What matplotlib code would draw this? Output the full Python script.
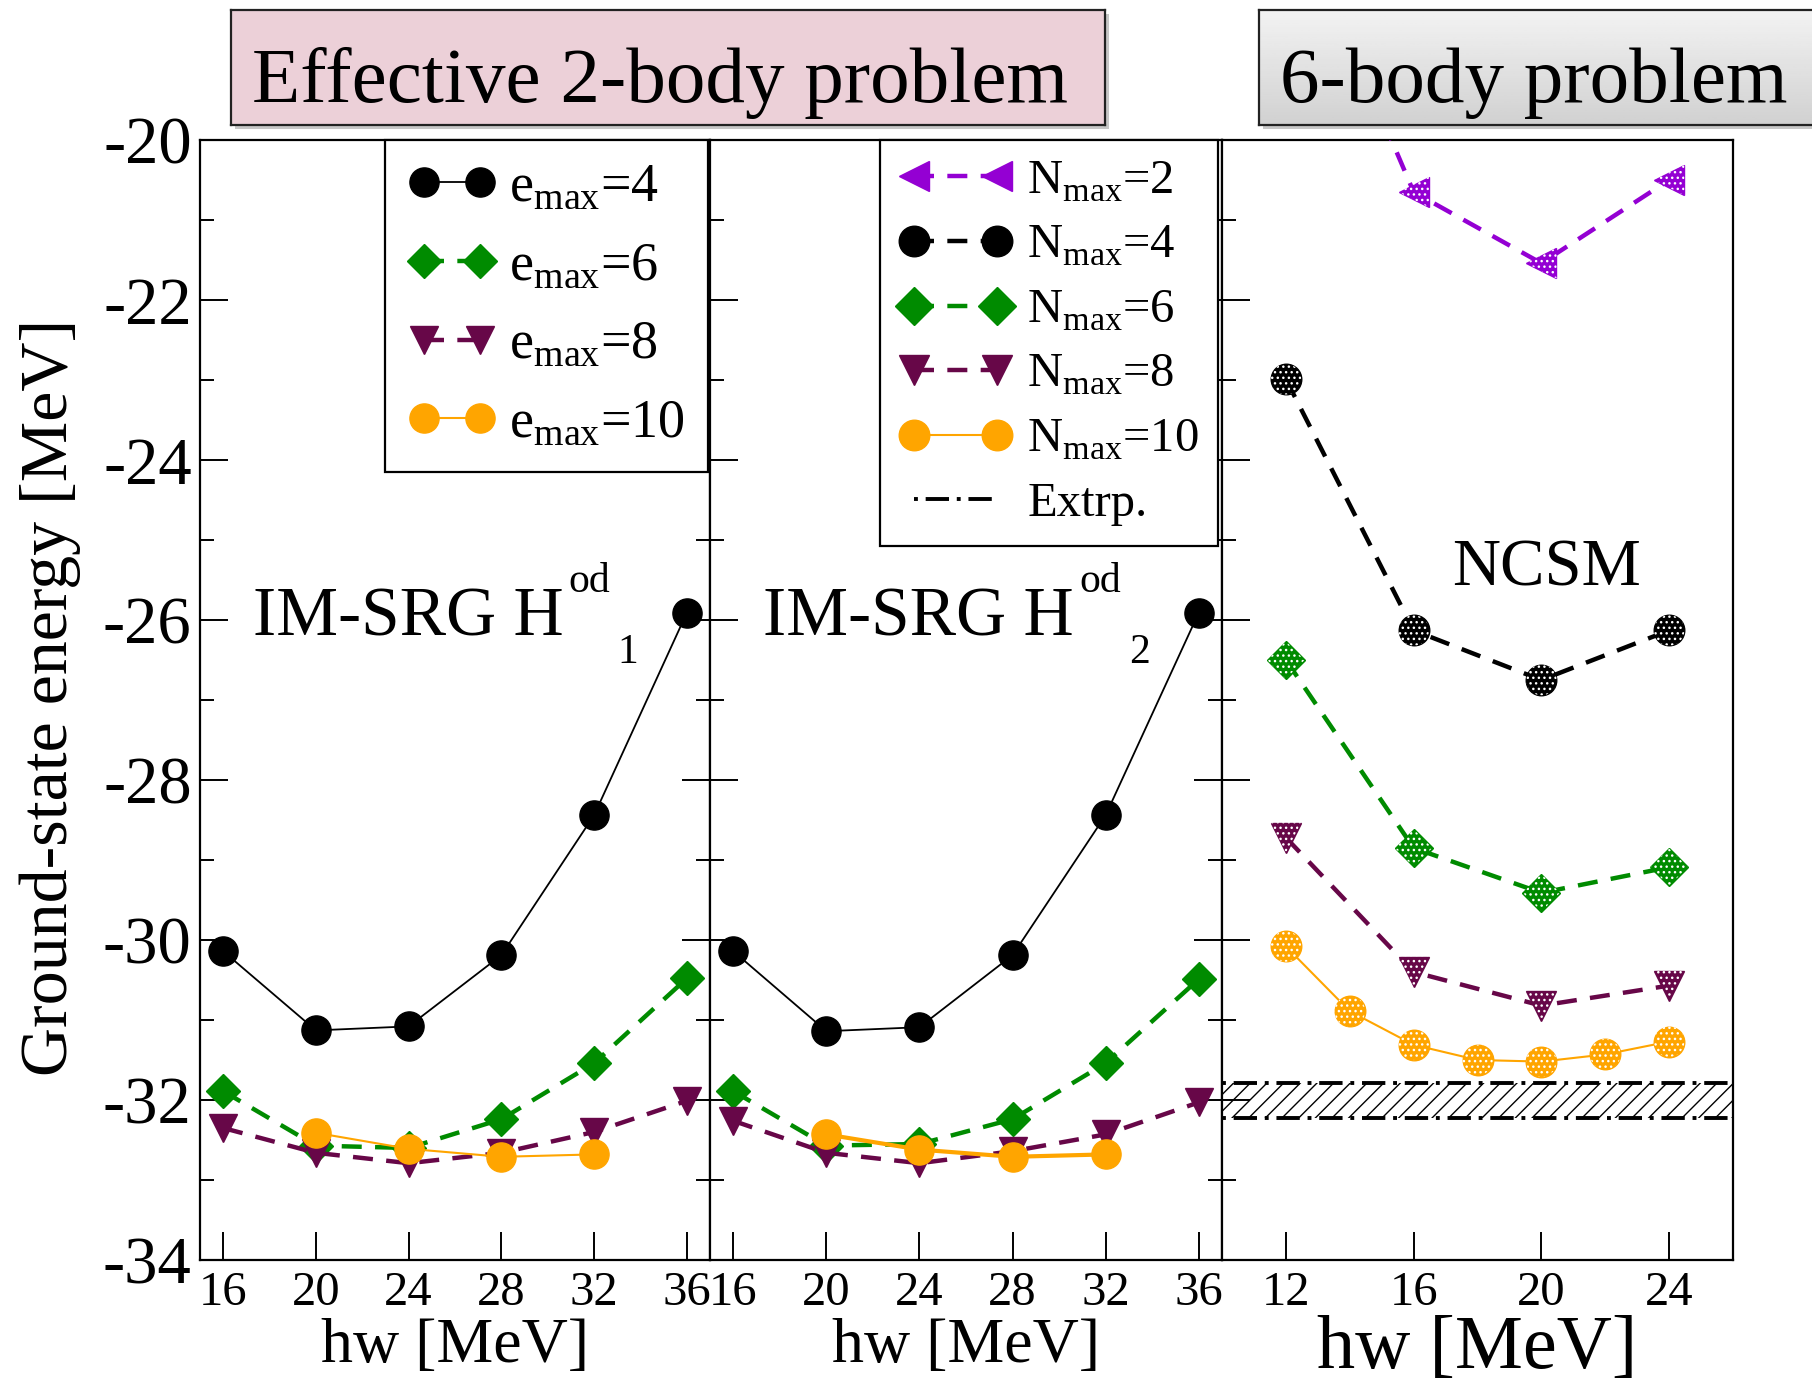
import numpy as np
import matplotlib
matplotlib.use('Agg')
import matplotlib.pyplot as plt
from matplotlib.lines import Line2D
from matplotlib.patches import Rectangle
from matplotlib.ticker import MultipleLocator, FormatStrFormatter

plt.rcParams['font.family'] = ['Liberation Serif', 'DejaVu Serif']
plt.rcParams['mathtext.fontset'] = 'custom'
plt.rcParams['mathtext.rm'] = 'Liberation Serif'
plt.rcParams['axes.unicode_minus'] = False
plt.rcParams['hatch.linewidth'] = 1.0

# IM-SRG data (effective 2-body problem)
hw_imsrg = [16, 20, 24, 28, 32, 36]
hw_emax10 = [20, 24, 28, 32]

h1_emax4 = [-30.14, -31.13, -31.08, -30.19, -28.44, -25.91]
h1_emax6 = [-31.89, -32.57, -32.60, -32.24, -31.54, -30.48]
h1_emax8 = [-32.35, -32.66, -32.79, -32.66, -32.40, -32.01]
h1_emax10 = [-32.41, -32.61, -32.71, -32.68]

h2_emax4 = [-30.14, -31.14, -31.09, -30.19, -28.44, -25.91]
h2_emax6 = [-31.89, -32.57, -32.55, -32.24, -31.54, -30.49]
h2_emax8 = [-32.26, -32.66, -32.79, -32.64, -32.43, -32.03]
h2_emax10 = [-32.43, -32.62, -32.71, -32.68]

# NCSM data (6-body problem)
hw_ncsm = [12, 16, 20, 24]
hw_nmax10 = [12, 14, 16, 18, 20, 22, 24]
ncsm_nmax2 = [-16.9, -20.65, -21.54, -20.50]
ncsm_nmax4 = [-22.99, -26.13, -26.75, -26.13]
ncsm_nmax6 = [-26.50, -28.85, -29.41, -29.09]
ncsm_nmax8 = [-28.72, -30.40, -30.82, -30.57]
ncsm_nmax10 = [-30.08, -30.89, -31.31, -31.50, -31.52, -31.43, -31.27]
extrp_lo, extrp_hi = -32.22, -31.79

# grace colours
BLACK = '#000000'
GREEN = '#008b00'
MAROON = '#670748'
ORANGE = '#ffa500'
VIOLET = '#9400d3'

W, H = 1812, 1390
fig = plt.figure(figsize=(W / 100, H / 100), dpi=100)

ax1 = fig.add_axes([200 / W, 130 / H, 510 / W, 1120 / H])
ax2 = fig.add_axes([710 / W, 130 / H, 512 / W, 1120 / H])
ax3 = fig.add_axes([1222 / W, 130 / H, 511 / W, 1120 / H])

dash = (0, (4.5, 3.0))


def imsrg_panel(ax, e4, e6, e8, e10, lw10):
    ax.plot(hw_imsrg, e4, '-', color=BLACK, lw=1.3, marker='o', ms=21, zorder=3)
    ax.plot(hw_imsrg, e6, ls=dash, color=GREEN, lw=3.2, marker='D', ms=17.5, zorder=3)
    ax.plot(hw_imsrg, e8, ls=dash, color=MAROON, lw=3.2, marker='v', ms=20, zorder=3)
    ax.plot(hw_emax10, e10, '-', color=ORANGE, lw=lw10, marker='o', ms=21, zorder=3)


imsrg_panel(ax1, h1_emax4, h1_emax6, h1_emax8, h1_emax10, 1.5)
imsrg_panel(ax2, h2_emax4, h2_emax6, h2_emax8, h2_emax10, 3.0)


def dotted(ax, x, y, marker, ms):
    # white dot pattern on top of the NCSM markers
    ax.scatter(x, y, s=ms ** 2, marker=marker, facecolors='none',
               edgecolors='white', hatch='...', linewidths=0, zorder=4)


ncsm_lines = []
for y, col, mk, ms, ls, lw, x in [
        (ncsm_nmax2, VIOLET, '<', 22, dash, 3.2, hw_ncsm),
        (ncsm_nmax4, BLACK, 'o', 22, dash, 3.2, hw_ncsm),
        (ncsm_nmax6, GREEN, 'D', 19, dash, 3.2, hw_ncsm),
        (ncsm_nmax8, MAROON, 'v', 22, dash, 3.2, hw_ncsm),
        (ncsm_nmax10, ORANGE, 'o', 22, '-', 1.5, hw_nmax10)]:
    ln, = ax3.plot(x, y, ls=ls, color=col, lw=lw, marker=mk, ms=ms, zorder=3)
    dotted(ax3, x, y, mk, ms)
    ncsm_lines.append(ln)

# extrapolated band
ax3.axhspan(extrp_lo, extrp_hi, facecolor='none', edgecolor='black', hatch='//', linewidth=0, zorder=2)
ddot = (0, (1, 2, 6, 2))
ax3.axhline(extrp_hi, color='black', lw=2.8, ls=ddot, zorder=2)
ax3.axhline(extrp_lo, color='black', lw=2.8, ls=ddot, zorder=2)

# axes styling
for ax in (ax1, ax2, ax3):
    ax.set_ylim(-34, -20)
    ax.yaxis.set_major_locator(MultipleLocator(2))
    ax.yaxis.set_minor_locator(MultipleLocator(1))
    ax.yaxis.set_major_formatter(FormatStrFormatter('%d'))
    for sp in ax.spines.values():
        sp.set_linewidth(1.6)
    ax.tick_params(axis='both', which='major', direction='in', length=20, width=1.4,
                   top=False)
    ax.tick_params(axis='y', which='minor', direction='in', length=10, width=1.4)
    ax.tick_params(axis='x', which='major', labelsize=35, pad=8)
    ax.tick_params(axis='y', which='major', labelsize=48, pad=6)

for ax in (ax1, ax2):
    ax.set_xlim(15, 37)
    ax.set_xticks(hw_imsrg)
    ax.set_xlabel('hw [MeV]', fontsize=46, labelpad=2)
    ax.tick_params(axis='y', which='both', left=True, right=True)

ax3.set_xlim(10, 26)
ax3.set_xticks(hw_ncsm)
ax3.set_xlabel('hw [MeV]', fontsize=55, labelpad=0)
ax3.tick_params(axis='y', which='both', left=True, right=False)

ax2.tick_params(axis='y', labelleft=False)
ax3.tick_params(axis='y', labelleft=False)

fig.text(50 / W, 1 - 697 / H, 'Ground-state energy [MeV]', rotation=90,
         ha='center', va='center', fontsize=49)

# panel annotations
for ax, sub in ((ax1, '1'), (ax2, '2')):
    ax.text(0.104, 0.558, 'IM-SRG H', transform=ax.transAxes, fontsize=50, va='baseline')
    ax.text(0.722, 0.596, 'od', transform=ax.transAxes, fontsize=30, va='baseline')
    ax.text(0.818, 0.533, sub, transform=ax.transAxes, fontsize=30, va='baseline')
ax3.text(0.45, 0.602, 'NCSM', transform=ax3.transAxes, fontsize=48, va='baseline')

# legends
e_handles = [
    Line2D([], [], color=BLACK, lw=1.3, marker='o', ms=21),
    Line2D([], [], color=GREEN, lw=3.2, ls=dash, marker='D', ms=17.5),
    Line2D([], [], color=MAROON, lw=3.2, ls=dash, marker='v', ms=20),
    Line2D([], [], color=ORANGE, lw=1.5, marker='o', ms=21),
]
e_labels = [r'e$_{\mathrm{max}}$=4', r'e$_{\mathrm{max}}$=6',
            r'e$_{\mathrm{max}}$=8', r'e$_{\mathrm{max}}$=10']
leg1 = ax1.legend(e_handles, e_labels, loc='upper right', bbox_to_anchor=(0.996, 1.0),
                  borderaxespad=0, fontsize=39, numpoints=2, handlelength=1.63,
                  handletextpad=0.25, labelspacing=0.52, borderpad=0.42,
                  fancybox=False, edgecolor='black', framealpha=1)
leg1.get_frame().set_linewidth(1.6)

n_handles = ncsm_lines + [Line2D([], [], color='black', lw=2.8, ls=ddot)]
n_labels = [r'N$_{\mathrm{max}}$=2', r'N$_{\mathrm{max}}$=4', r'N$_{\mathrm{max}}$=6',
            r'N$_{\mathrm{max}}$=8', r'N$_{\mathrm{max}}$=10', 'Extrp.']
leg2 = ax2.legend(n_handles, n_labels, loc='upper right', bbox_to_anchor=(0.993, 1.0),
                  borderaxespad=0, fontsize=35, numpoints=2, handlelength=2.3,
                  handletextpad=0.33, labelspacing=0.42, borderpad=0.4,
                  fancybox=False, edgecolor='black', framealpha=1)
leg2.get_frame().set_linewidth(1.6)
leg2.set_zorder(10)


# header boxes
def header(x0, x1, text, tx, color=None, gradient=False):
    y0, y1 = 10, 125
    shadow = Rectangle(((x0 + 4) / W, 1 - (y1 + 4) / H), (x1 - x0) / W, (y1 - y0) / H,
                       transform=fig.transFigure, facecolor='#b0b0b0', edgecolor='none',
                       alpha=0.7, zorder=-1)
    fig.patches.append(shadow)
    hax = fig.add_axes([x0 / W, 1 - y1 / H, (x1 - x0) / W, (y1 - y0) / H])
    hax.set_zorder(1)
    if gradient:
        g = np.linspace(0.95, 0.82, 50)[:, None]
        hax.imshow(g, cmap='gray', vmin=0, vmax=1, aspect='auto', extent=[0, 1, 0, 1])
    else:
        hax.set_facecolor(color)
    hax.set_xlim(0, 1)
    hax.set_ylim(0, 1)
    hax.set_xticks([])
    hax.set_yticks([])
    for sp in hax.spines.values():
        sp.set_linewidth(1.6)
        sp.set_color('#222222')
    hax.text((tx - x0) / (x1 - x0), (y1 - 102) / (y1 - y0), text, transform=hax.transAxes,
             fontsize=57, ha='left', va='baseline')


header(231, 1105, 'Effective 2-body problem', 252, color='#ecd0d8')
header(1259, 1830, '6-body problem', 1280, gradient=True)

fig.savefig('out.png', dpi=100)
